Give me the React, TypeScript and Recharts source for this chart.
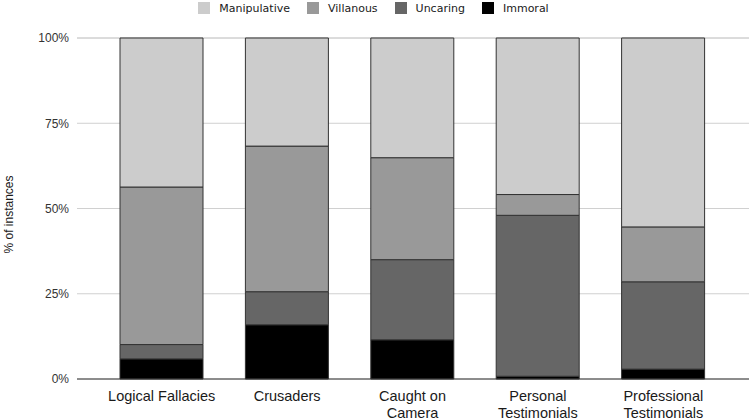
import React from "react";
import { BarChart, Bar, XAxis, YAxis, CartesianGrid, Legend } from "recharts";

const categories = ["Logical Fallacies", "Crusaders", "Caught on Camera", "Personal Testimonials", "Professional Testimonials"];
const tickLines: string[][] = [["Logical Fallacies"], ["Crusaders"], ["Caught on", "Camera"], ["Personal", "Testimonials"], ["Professional", "Testimonials"]];
const immoral = [5.9, 15.9, 11.5, 0.8, 2.9];
const uncaring = [4.2, 9.7, 23.5, 47.2, 25.6];
const villanous = [46.2, 42.7, 29.9, 6.1, 16.1];
const manipulative = [43.7, 31.7, 35.1, 45.9, 55.4];
const yTicks = [0, 25, 50, 75, 100];

const seriesList = [
  { key: "Manipulative", color: "#cccccc" },
  { key: "Villanous", color: "#999999" },
  { key: "Uncaring", color: "#666666" },
  { key: "Immoral", color: "#000000" },
];

const data = categories.map((c, i) => ({
  name: c,
  Immoral: immoral[i],
  Uncaring: uncaring[i],
  Villanous: villanous[i],
  Manipulative: manipulative[i],
}));

const XTick = (props: any) => {
  const { x, y, payload } = props;
  const idx = categories.indexOf(payload.value);
  const lines = idx >= 0 ? tickLines[idx] : [payload.value];
  return (
    <g transform={`translate(${x},${y})`}>
      {lines.map((l, i) => (
        <text key={i} x={0} y={14 + i * 17} textAnchor="middle" fill="#1a1a1a" fontSize={14.5} fontFamily="'Liberation Sans', Arial, sans-serif">
          {l}
        </text>
      ))}
    </g>
  );
};

const LegendContent = () => (
  <div style={{ display: "flex", justifyContent: "center", alignItems: "center", fontFamily: "'DejaVu Sans', sans-serif", fontSize: 11, color: "#1a1a1a", height: 16, paddingLeft: 14 }}>
    {seriesList.map((s) => (
      <div key={s.key} style={{ display: "flex", alignItems: "center", marginRight: 17 }}>
        <div style={{ width: 12, height: 12, background: s.color, marginRight: 9 }} />
        <span>{s.key}</span>
      </div>
    ))}
  </div>
);

export default function App() {
  return (
    <div style={{ position: "absolute", left: 0, top: 0, width: 750, height: 420 }}>
      <BarChart width={750} height={420} data={data} margin={{ top: 22, right: 1, bottom: 11, left: 0 }} barSize={83}>
        <Legend verticalAlign="top" align="center" content={<LegendContent />} wrapperStyle={{ top: 0, left: 0, width: 750 }} />
        <CartesianGrid horizontal vertical={false} stroke="#d0d0d0" />
        <XAxis dataKey="name" tick={<XTick />} tickLine={false} axisLine={{ stroke: "#333" }} height={30} interval={0} padding={{ left: 22, right: 23 }} />
        <YAxis
          domain={[0, 100]}
          ticks={yTicks}
          tickFormatter={(v: number) => `${v}%`}
          tickLine={false}
          axisLine={false}
          width={77}
          tick={{ fill: "#333", fontSize: 12, fontFamily: "'Liberation Sans', Arial, sans-serif" }}
          label={{
            content: (p: any) => {
              const vb = p.viewBox;
              const cx = vb.x + 9;
              const cy = vb.y + vb.height / 2 + 6;
              return (
                <text x={cx} y={cy} transform={`rotate(-90 ${cx} ${cy})`} textAnchor="middle" dominantBaseline="central" fill="#1a1a1a" fontSize={12} fontFamily="'Liberation Sans', Arial, sans-serif">
                  % of instances
                </text>
              );
            },
          }}
        />
        <Bar dataKey="Immoral" stackId="a" fill="#000000" stroke="#333" strokeWidth={1} isAnimationActive={false} />
        <Bar dataKey="Uncaring" stackId="a" fill="#666666" stroke="#333" strokeWidth={1} isAnimationActive={false} />
        <Bar dataKey="Villanous" stackId="a" fill="#999999" stroke="#333" strokeWidth={1} isAnimationActive={false} />
        <Bar dataKey="Manipulative" stackId="a" fill="#cccccc" stroke="#333" strokeWidth={1} isAnimationActive={false} />
      </BarChart>
    </div>
  );
}
